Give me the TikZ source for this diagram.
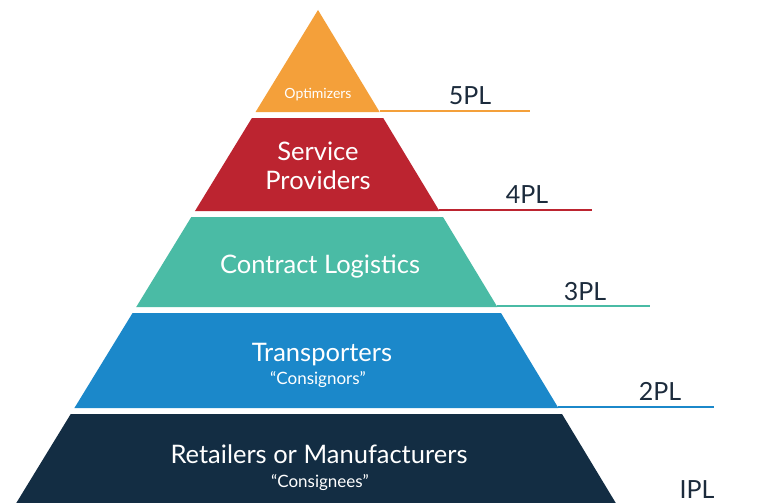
\documentclass[tikz,border=0pt]{standalone}
\usepackage{fontspec}
\setmainfont{Lato}
\usetikzlibrary{positioning}

\definecolor{optim}{HTML}{F4A03A}
\definecolor{servp}{HTML}{BC2430}
\definecolor{contr}{HTML}{4ABBA5}
\definecolor{trans}{HTML}{1B88CA}
\definecolor{retail}{HTML}{132D43}
\definecolor{plink}{HTML}{1C2B3C}

\begin{document}
\begin{tikzpicture}[x=1pt,y=-1pt,
  tier/.style={text=white,anchor=base,font=\fontsize{25.5}{29}\selectfont},
  subtier/.style={text=white,anchor=base,font=\fontsize{17}{20}\selectfont},
  level/.style={text=plink,anchor=base,inner sep=1pt,font=\fontsize{25}{28}\selectfont},
  rule/.style={draw=#1,line width=2pt}]
\fill[white] (0,0) rectangle (763,503);
\useasboundingbox (0,0) rectangle (763,503);
\begin{scope}
\clip (0,0) rectangle (763,503);
% bands of the pyramid: top / bottom / colour / name
\foreach \top/\bot/\col/\nm in {10/112/optim/five, 118/211/servp/four,
    217/307/contr/three, 313/408/trans/two, 414/530/retail/one} {
  \pgfmathsetmacro\tl{318-0.612*(\top-10)}
  \pgfmathsetmacro\tr{318+0.604*(\top-10)}
  \pgfmathsetmacro\bl{318-0.612*(\bot-10)}
  \pgfmathsetmacro\br{318+0.604*(\bot-10)}
  \fill[\col] (\tl,\top) -- (\tr,\top) -- (\br,\bot) -- (\bl,\bot) -- cycle;
  \coordinate (\nm-br) at (\br,\bot-1);
}
\end{scope}

% texts on the bands
\node[tier,font=\fontsize{14}{16}\selectfont] (optimizers) at (318,98) {Optimizers};
\node[tier] (service) at (318,160) {Service};
\node[tier] (providers) at (318,189) {Providers};
\node[tier] (contract) at (320,273) {Contract Logistics};
\node[tier] (transporters) at (322,361) {Transporters};
\node[subtier] (consignors) at (318,384) {``Consignors''};
\node[tier] (retailers) at (319,463) {Retailers or Manufacturers};
\node[subtier] (consignees) at (320,487) {``Consignees''};

% level rules and labels
\coordinate (five-end) at (530,111);
\coordinate (four-end) at (592,210);
\coordinate (three-end) at (650,306);
\coordinate (two-end) at (714,407);

\draw[rule=optim] (five-br) -- (five-end);
\draw[rule=servp] (four-br) -- (four-end);
\draw[rule=contr] (three-br) -- (three-end);
\draw[rule=trans] (two-br) -- (two-end);

\node[level] (l5) at (470,104) {5PL};
\node[level] (l4) at (527,203) {4PL};
\node[level] (l3) at (585,300) {3PL};
\node[level] (l2) at (660,400) {2PL};
\node[level] (l1) at (697,498) {IPL};
\end{tikzpicture}
\end{document}
